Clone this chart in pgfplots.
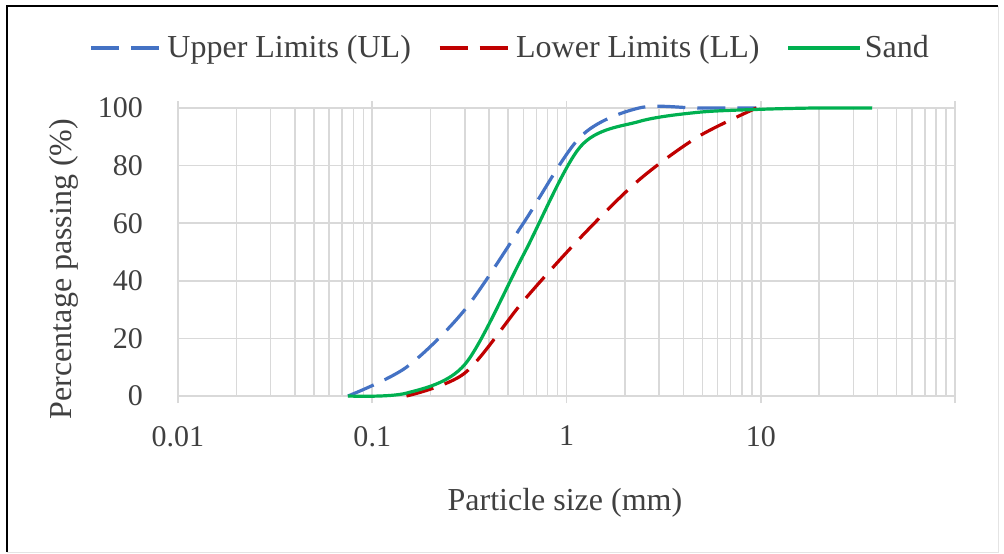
\documentclass[border=0pt]{standalone}
\usepackage{pgfplots}
\pgfplotsset{compat=1.18}
\usepackage{fontspec}
\setmainfont{Liberation Serif}
\definecolor{ulblue}{HTML}{4472C4}
\definecolor{llred}{HTML}{C00000}
\definecolor{sandgreen}{HTML}{00B050}
\definecolor{gridgray}{HTML}{D9D9D9}
\definecolor{txt}{HTML}{404040}
\begin{document}
\begin{tikzpicture}
\useasboundingbox (0,0) rectangle (502pt,276.5pt);
\draw[gridgray!70, line width=0.5pt] (499pt,273.5pt) -- (499pt,0.5pt) -- (3.5pt,0.5pt);
\draw[black, line width=1pt] (3.5pt,0.5pt) -- (3.5pt,273.5pt) -- (499pt,273.5pt);
\begin{axis}[
  at={(89pt,78.5pt)}, anchor=south west,
  scale only axis, width=388.5pt, height=144pt,
  xmode=log, log basis x=10,
  xmin=0.01, xmax=100, ymin=0, ymax=100,
  xtick={0.01,0.1,1,10,100},
  xticklabels={0.01,0.1,1,10,},
  minor xtick={0.02,0.03,0.04,0.05,0.06,0.07,0.08,0.09,
               0.2,0.3,0.4,0.5,0.6,0.7,0.8,0.9,
               2,3,4,5,6,7,8,9,
               20,30,40,50,60,70,80,90},
  ytick={0,20,40,60,80,100},
  xmajorgrids, ymajorgrids, xminorgrids,
  major grid style={gridgray, line width=0.75pt},
  minor grid style={gridgray, line width=0.75pt},
  axis line style={draw=none},
  tick align=outside,
  major tick length=3.5pt,
  minor tick length=0pt,
  xtick style={gridgray, line width=0.75pt},
  ytick style={draw=none},
  /pgf/number format/assume math mode=true,
  tick label style={font=\fontsize{15}{18}\selectfont, text=txt},
  xticklabel style={yshift=-8pt},
  yticklabel style={xshift=-10.5pt},
  xlabel={Particle size (mm)},
  ylabel={Percentage passing (\%)},
  label style={font=\fontsize{16}{19}\selectfont, text=txt},
  xlabel style={at={(0.498,-0.3715)}, anchor=center},
  ylabel style={at={(-0.1467,0.441)}, anchor=center, rotate=0},
  clip=false,
  legend columns=3,
  legend cell align=left,
  legend style={at={(0.428,1.2083)}, anchor=center, draw=none, fill=none,
    font=\fontsize{16}{19}\selectfont, text=txt,
    nodes={inner sep=1.5pt},
    /tikz/every even column/.append style={column sep=12pt}},
  legend image code/.code={\draw[#1] (0pt,0pt) -- (36pt,0pt);},
]
\addplot[ulblue, line width=1.6pt, dash pattern=on 14pt off 6pt, smooth, tension=0.5] coordinates {
(0.075,0) (0.15,10) (0.3,30) (0.6,60) (1.18,90) (2.36,100) (4.75,100) (9.5,100)};
\addlegendentry{Upper Limits (UL)}
\addplot[llred, line width=1.6pt, dash pattern=on 14pt off 6pt, smooth, tension=0.5] coordinates {
(0.15,0) (0.3,8) (0.6,33) (1.18,55) (2.36,75) (4.75,90) (9.5,100)};
\addlegendentry{Lower Limits (LL)}
\addplot[sandgreen, line width=1.6pt, smooth, tension=0.5] coordinates {
(0.075,0) (0.15,1) (0.3,11) (0.6,49) (1.18,86.6) (2.36,95.3) (4.75,98.5) (9.5,99.5) (19,100) (37.5,100)};
\addlegendentry{Sand}
\end{axis}
\end{tikzpicture}
\end{document}
